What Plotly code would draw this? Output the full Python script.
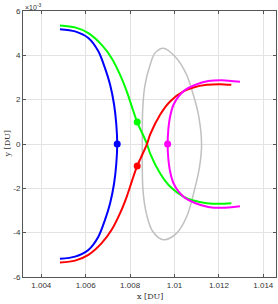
import plotly.graph_objects as go

# ---- data (x in DU, y in units of 1e-3 DU) ----
blue_x = [1.00484, 1.00552, 1.00612, 1.00657, 1.00687, 1.00710, 1.00728, 1.00738, 1.00742,
          1.00738, 1.00728, 1.00710, 1.00687, 1.00657, 1.00612, 1.00552, 1.00484]
blue_y = [5.18, 5.08, 4.78, 4.18, 3.42, 2.67, 1.77, 0.87, 0.0,
          -0.87, -1.77, -2.67, -3.42, -4.18, -4.78, -5.08, -5.18]

green_x = [1.00484, 1.00552, 1.00612, 1.00672, 1.00717, 1.00755, 1.00785, 1.00810, 1.00832,
           1.00875, 1.00890, 1.00935, 1.00980, 1.01040, 1.01085, 1.01145, 1.01205, 1.01256]
green_y = [5.35, 5.26, 5.00, 4.47, 3.87, 3.12, 2.37, 1.62, 0.99,
           0.03, -0.42, -1.32, -1.92, -2.37, -2.55, -2.67, -2.70, -2.67]

red_x = [1.00484, 1.00552, 1.00612, 1.00672, 1.00717, 1.00755, 1.00785, 1.00810, 1.00832,
         1.00875, 1.00890, 1.00935, 1.00980, 1.01040, 1.01085, 1.01145, 1.01205, 1.01256]
red_y = [-5.35, -5.26, -5.00, -4.47, -3.87, -3.12, -2.37, -1.62, -0.99,
         -0.03, 0.42, 1.32, 1.92, 2.37, 2.55, 2.67, 2.70, 2.67]

magenta_x = [1.01295, 1.01213, 1.01152, 1.01092, 1.01047, 1.01017, 1.00995, 1.00980, 1.00972, 1.00969,
             1.00972, 1.00980, 1.00995, 1.01017, 1.01047, 1.01092, 1.01152, 1.01213, 1.01295]
magenta_y = [2.81, 2.88, 2.84, 2.66, 2.43, 2.13, 1.76, 1.23, 0.63, 0.0,
             -0.63, -1.23, -1.76, -2.13, -2.43, -2.66, -2.84, -2.88, -2.81]

gray_x = [1.01122, 1.01108, 1.01085, 1.01055, 1.01010, 1.00950, 1.00912, 1.00890, 1.00867, 1.00857, 1.00855,
          1.00858, 1.00873, 1.00902, 1.00950, 1.01010, 1.01055, 1.01090, 1.01113, 1.01122]
gray_y = [0.0, 1.31, 2.21, 3.11, 3.86, 4.32, 4.10, 3.56, 2.66, 1.61, 0.0,
          -2.07, -3.12, -3.95, -4.32, -4.02, -3.27, -2.07, -1.02, 0.0]

marker_x = [1.00742, 1.00832, 1.00832, 1.00969]
marker_y = [0.0, 0.99, -0.99, 0.0]
marker_colors = ["#0000ff", "#00ff00", "#ff0000", "#ff00ff"]

x_ticks = [1.004, 1.006, 1.008, 1.010, 1.012, 1.014]
x_ticktext = ["1.004", "1.006", "1.008", "1.01", "1.012", "1.014"]
y_ticks = [-6, -4, -2, 0, 2, 4, 6]
y_ticktext = ["-6", "-4", "-2", "0", "2", "4", "6"]

fig = go.Figure()
fig.add_trace(go.Scatter(x=gray_x, y=gray_y, mode="lines",
                         line=dict(color="#c0c0c0", width=1.5, shape="spline", smoothing=1.0)))
for xs, ys, col in [(blue_x, blue_y, "#0000ff"), (green_x, green_y, "#00ff00"),
                    (red_x, red_y, "#ff0000"), (magenta_x, magenta_y, "#ff00ff")]:
    fig.add_trace(go.Scatter(x=xs, y=ys, mode="lines",
                             line=dict(color=col, width=2, shape="spline", smoothing=0.8)))
fig.add_trace(go.Scatter(x=marker_x, y=marker_y, mode="markers",
                         marker=dict(color=marker_colors, size=7, symbol="circle",
                                     line=dict(width=0))))

axis_common = dict(
    showgrid=True, gridcolor="#e3e3e3", gridwidth=1, automargin=False,
    zeroline=False, showline=True, linecolor="#555555", linewidth=1,
    mirror="ticks", ticks="inside", ticklen=3, tickcolor="#555555",
    tickfont=dict(family="Liberation Sans, Arial, sans-serif", size=8, color="#333333"),
)

title_font = dict(family="DejaVu Serif, Liberation Serif, serif", size=8, color="#333333")

fig.update_layout(
    width=278, height=304,
    margin=dict(l=23, r=2, t=11, b=27),
    paper_bgcolor="white", plot_bgcolor="white",
    showlegend=False,
    xaxis=dict(range=[1.003176, 1.014572], tickvals=x_ticks, ticktext=x_ticktext, **axis_common),
    yaxis=dict(range=[-6, 6], tickvals=y_ticks, ticktext=y_ticktext, **axis_common),
    annotations=[
        dict(text="×10<sup>-3</sup>", xref="paper", yref="paper", x=0.0, y=1.0,
             xanchor="left", yanchor="bottom", showarrow=False, xshift=0, yshift=-2,
             font=dict(family="Liberation Sans, Arial, sans-serif", size=7, color="#333333")),
        dict(text="x [DU]", xref="paper", yref="paper", x=0.5, y=0.0,
             xanchor="center", yanchor="top", showarrow=False, yshift=-13, font=title_font),
        dict(text="y [DU]", xref="paper", yref="paper", x=0.0, y=0.5, textangle=-90,
             xanchor="right", yanchor="middle", showarrow=False, xshift=-10, font=title_font),
    ],
)

fig.write_html("out.html", config={"displayModeBar": False},
               post_script="document.body.style.margin='0';document.body.style.padding='0';"
                           "document.body.style.overflow='hidden';")
